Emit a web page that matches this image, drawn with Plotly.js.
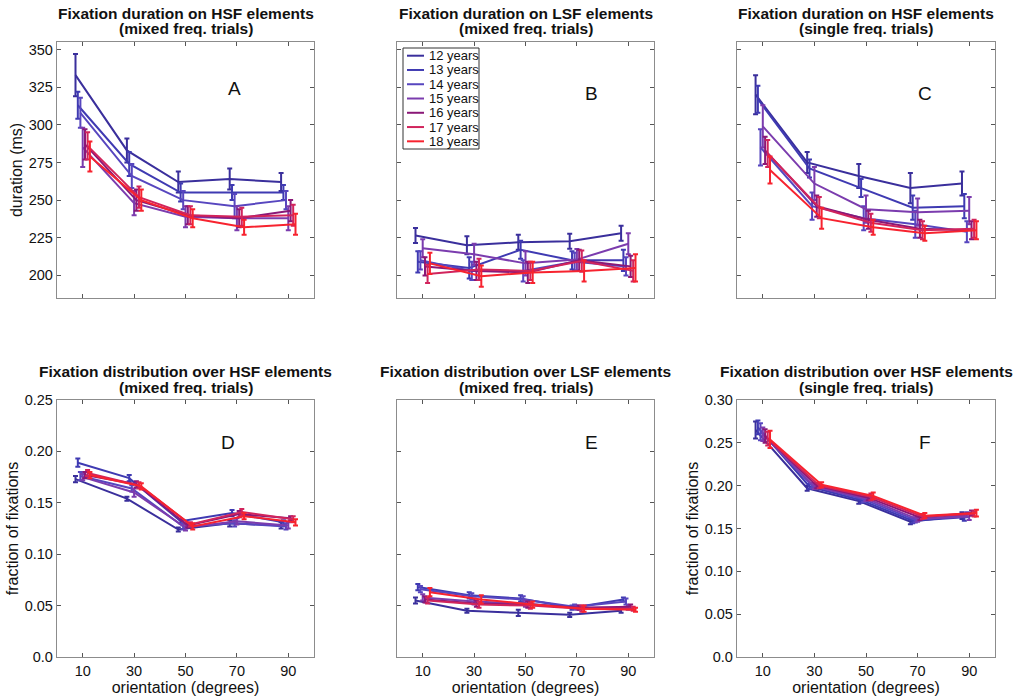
<!DOCTYPE html>
<html>
<head>
<meta charset="utf-8">
<script src="https://cdn.plot.ly/plotly-3.0.1.min.js"></script>
<style>
  html, body { margin: 0; padding: 0; background: #fff; overflow: hidden; }
  #chart { width: 1013px; height: 696px; }
</style>
</head>
<body>
<div id="chart"></div>
<script>
// ---------- DATA ----------
const orientations = [10, 30, 50, 70, 90];
const ageLabels = ['12 years', '13 years', '14 years', '15 years', '16 years', '17 years', '18 years'];

// A: fixation duration on HSF elements (mixed freq. trials), ms  (rows = 12..18 years)
const durHsfMixed = [
  [333, 283, 262, 264, 262],
  [313, 274, 255, 255, 255],
  [308, 266, 250, 246, 250],
  [285, 248, 239, 238, 238],
  [287, 250, 240, 238, 243],
  [286, 252, 240, 239, 240],
  [279, 250, 238, 232, 234]
];
const durHsfMixedErr = [
  [14, 8, 7, 7, 6],
  [9, 8, 6, 5, 5],
  [10, 8, 6, 8, 6],
  [13, 8, 7, 8, 8],
  [10, 7, 6, 6, 7],
  [9, 7, 6, 6, 7],
  [10, 7, 6, 5, 7]
];

// B: fixation duration on LSF elements (mixed freq. trials), ms
const durLsfMixed = [
  [226.5, 220, 222, 222.7, 228],
  [209, 205, 217, 210, 210],
  [210, 203, 203, 209, 206],
  [218, 214, 208, 210.5, 221],
  [206, 203, 202, 210, 206],
  [201, 204, 203, 209.5, 203],
  [208, 199.5, 202, 203, 205]
];
const durLsfMixedErr = [
  [5, 6, 5, 5, 5],
  [7, 7, 6, 6, 7],
  [6, 6, 7, 6, 6],
  [6, 7, 8, 7, 7],
  [6, 6, 7, 7, 7],
  [6, 7, 6, 7, 7],
  [7, 7, 7, 7, 9]
];

// C: fixation duration on HSF elements (single freq. trials), ms
const durHsfSingle = [
  [320, 275, 266, 258, 261],
  [317, 271, 258, 245, 246],
  [285, 246, 238, 234, 229],
  [299, 261, 244, 242, 243],
  [283, 246, 237, 231, 230],
  [281, 245, 235, 230, 231],
  [270, 238, 232, 228, 230]
];
const durHsfSingleErr = [
  [13, 7, 8, 10, 8],
  [9, 6, 6, 8, 8],
  [12, 9, 8, 9, 7],
  [14, 11, 9, 9, 9],
  [9, 7, 6, 6, 6],
  [9, 7, 6, 6, 6],
  [9, 7, 5, 5, 6]
];

// D: fixation distribution over HSF elements (mixed freq. trials), fraction
const distHsfMixed = [
  [0.173, 0.154, 0.124, 0.130, 0.128],
  [0.189, 0.174, 0.132, 0.140, 0.131],
  [0.176, 0.164, 0.127, 0.130, 0.127],
  [0.175, 0.160, 0.126, 0.132, 0.128],
  [0.177, 0.168, 0.128, 0.139, 0.135],
  [0.179, 0.167, 0.129, 0.141, 0.134],
  [0.177, 0.166, 0.127, 0.137, 0.131]
];
const distHsfMixedErr = [
  [0.003, 0.002, 0.002, 0.003, 0.003],
  [0.004, 0.003, 0.002, 0.003, 0.002],
  [0.004, 0.003, 0.003, 0.003, 0.003],
  [0.003, 0.004, 0.003, 0.003, 0.003],
  [0.003, 0.003, 0.002, 0.003, 0.002],
  [0.003, 0.003, 0.002, 0.003, 0.003],
  [0.003, 0.003, 0.003, 0.003, 0.003]
];

// E: fixation distribution over LSF elements (mixed freq. trials), fraction
const distLsfMixed = [
  [0.055, 0.045, 0.043, 0.041, 0.045],
  [0.068, 0.060, 0.057, 0.048, 0.056],
  [0.066, 0.059, 0.056, 0.049, 0.054],
  [0.058, 0.054, 0.052, 0.048, 0.048],
  [0.056, 0.052, 0.051, 0.048, 0.049],
  [0.055, 0.051, 0.050, 0.047, 0.047],
  [0.063, 0.056, 0.051, 0.047, 0.046]
];
const distLsfMixedErr = [
  [0.003, 0.002, 0.003, 0.002, 0.002],
  [0.003, 0.003, 0.003, 0.002, 0.002],
  [0.003, 0.003, 0.003, 0.002, 0.003],
  [0.003, 0.003, 0.003, 0.002, 0.002],
  [0.003, 0.003, 0.003, 0.002, 0.002],
  [0.003, 0.003, 0.003, 0.003, 0.002],
  [0.004, 0.004, 0.003, 0.003, 0.002]
];

// F: fixation distribution over HSF elements (single freq. trials), fraction
const distHsfSingle = [
  [0.265, 0.197, 0.182, 0.158, 0.165],
  [0.268, 0.199, 0.183, 0.159, 0.163],
  [0.263, 0.200, 0.184, 0.160, 0.166],
  [0.260, 0.199, 0.185, 0.161, 0.164],
  [0.258, 0.200, 0.186, 0.163, 0.168],
  [0.255, 0.200, 0.187, 0.164, 0.167],
  [0.254, 0.201, 0.188, 0.165, 0.168]
];
const distHsfSingleErr = [
  [0.010, 0.003, 0.003, 0.003, 0.004],
  [0.008, 0.003, 0.003, 0.003, 0.004],
  [0.010, 0.003, 0.003, 0.003, 0.003],
  [0.008, 0.003, 0.003, 0.003, 0.004],
  [0.008, 0.003, 0.003, 0.003, 0.003],
  [0.008, 0.003, 0.004, 0.003, 0.003],
  [0.010, 0.003, 0.004, 0.003, 0.004]
];

const durTicks = [200, 225, 250, 275, 300, 325, 350];
const distTicks25 = [0, 0.05, 0.10, 0.15, 0.20, 0.25];
const distTickText25 = ['0.0', '0.05', '0.10', '0.15', '0.20', '0.25'];
const distTicks30 = [0, 0.05, 0.10, 0.15, 0.20, 0.25, 0.30];
const distTickText30 = ['0.0', '0.05', '0.10', '0.15', '0.20', '0.25', '0.30'];

const panelTitles1 = ['Fixation duration on HSF elements', 'Fixation duration on LSF elements', 'Fixation duration on HSF elements',
  'Fixation distribution over HSF elements', 'Fixation distribution over LSF elements', 'Fixation distribution over HSF elements'];
const panelTitles2 = ['(mixed freq. trials)', '(mixed freq. trials)', '(single freq. trials)',
  '(mixed freq. trials)', '(mixed freq. trials)', '(single freq. trials)'];
const panelLetters = ['A', 'B', 'C', 'D', 'E', 'F'];

// ---------- STYLE ----------
const ageColors = ['#3a2f9c', '#3f3ab2', '#5746bf', '#7b3cae', '#8a1877', '#d1245c', '#f7232f'];
const xJitter = [-2.8, -1.9, -0.9, 0, 0.9, 1.9, 2.8];
const FONT = 'Liberation Sans, Arial, Helvetica, sans-serif';
const letterPos = [[0.69, 0.82], [0.755, 0.80], [0.73, 0.80], [0.665, 0.835], [0.755, 0.835], [0.73, 0.835]];

const panelVals = [durHsfMixed, durLsfMixed, durHsfSingle, distHsfMixed, distLsfMixed, distHsfSingle];
const panelErrs = [durHsfMixedErr, durLsfMixedErr, durHsfSingleErr, distHsfMixedErr, distLsfMixedErr, distHsfSingleErr];
const axSuffix = ['', '2', '3', '4', '5', '6'];

const traces = [];
panelVals.forEach((vals, pi) => {
  vals.forEach((row, si) => {
    traces.push({
      type: 'scatter',
      mode: 'lines',
      x: orientations.map(o => o + xJitter[si]),
      y: row,
      xaxis: 'x' + axSuffix[pi],
      yaxis: 'y' + axSuffix[pi],
      name: ageLabels[si],
      showlegend: false,
      line: { color: ageColors[si], width: 2 },
      error_y: { type: 'data', array: panelErrs[pi][si], visible: true, color: ageColors[si], thickness: 2, width: 2.5 }
    });
  });
});

const W = 1013, H = 696;
const colX = [[57, 314], [397, 654], [737, 995]];
const rowY = [[42, 298], [400, 657]];
const dx = c => [colX[c][0] / W, colX[c][1] / W];
const dy = r => [1 - rowY[r][1] / H, 1 - rowY[r][0] / H];
const px = x => x / W;
const py = y => 1 - y / H;

const baseAxis = {
  showgrid: false, zeroline: false, showline: true, mirror: 'ticks',
  linecolor: '#8c8c8c', linewidth: 1.2,
  ticks: 'inside', ticklen: 4, tickwidth: 1, tickcolor: '#555',
  tickfont: { family: FONT, size: 14.5, color: '#111' },
  fixedrange: true
};
function xAxis(c, labels) {
  return Object.assign({}, baseAxis, {
    domain: dx(c), range: [0, 100], tickmode: 'array', tickvals: orientations,
    showticklabels: labels,
    title: labels ? { text: 'orientation (degrees)', font: { family: FONT, size: 16, color: '#111' }, standoff: 0 } : { text: '' }
  });
}
function yAxis(r, range, tv, tt, labels, titleText) {
  const a = Object.assign({}, baseAxis, {
    domain: dy(r), range: range, tickmode: 'array', tickvals: tv, showticklabels: labels,
    title: titleText ? { text: titleText, font: { family: FONT, size: 16, color: '#111' }, standoff: 2 } : { text: '' }
  });
  if (tt) a.ticktext = tt;
  return a;
}

const layout = {
  width: W, height: H,
  margin: { l: 0, r: 0, t: 0, b: 0 },
  paper_bgcolor: '#fff', plot_bgcolor: '#fff',
  font: { family: FONT, size: 14, color: '#111' },
  showlegend: false,
  xaxis: Object.assign(xAxis(0, false), { anchor: 'y' }),
  yaxis: Object.assign(yAxis(0, [185, 355], durTicks, null, true, 'duration (ms)'), { anchor: 'x' }),
  xaxis2: Object.assign(xAxis(1, false), { anchor: 'y2' }),
  yaxis2: Object.assign(yAxis(0, [185, 355], durTicks, null, false, null), { anchor: 'x2' }),
  xaxis3: Object.assign(xAxis(2, false), { anchor: 'y3' }),
  yaxis3: Object.assign(yAxis(0, [185, 355], durTicks, null, false, null), { anchor: 'x3' }),
  xaxis4: Object.assign(xAxis(0, true), { anchor: 'y4' }),
  yaxis4: Object.assign(yAxis(1, [0, 0.25], distTicks25, distTickText25, true, 'fraction of fixations'), { anchor: 'x4' }),
  xaxis5: Object.assign(xAxis(1, true), { anchor: 'y5' }),
  yaxis5: Object.assign(yAxis(1, [0, 0.25], distTicks25, distTickText25, false, null), { anchor: 'x5' }),
  xaxis6: Object.assign(xAxis(2, true), { anchor: 'y6' }),
  yaxis6: Object.assign(yAxis(1, [0, 0.30], distTicks30, distTickText30, true, 'fraction of fixations'), { anchor: 'x6' }),
  annotations: [],
  shapes: []
};

// panel titles (two bold lines) and panel letters
panelLetters.forEach((letter, i) => {
  const c = i % 3, r = Math.floor(i / 3);
  const cx = (colX[c][0] + colX[c][1]) / 2;
  const top = rowY[r][0];
  [[panelTitles1[i], top - 28.5], [panelTitles2[i], top - 13]].forEach(([t, yy]) => {
    layout.annotations.push({
      xref: 'paper', yref: 'paper', x: px(cx), y: py(yy),
      xanchor: 'center', yanchor: 'middle',
      text: '<b>' + t + '</b>', showarrow: false,
      font: { family: FONT, size: 15.5, color: '#111' }
    });
  });
  layout.annotations.push({
    xref: 'x' + axSuffix[i] + ' domain', yref: 'y' + axSuffix[i] + ' domain',
    x: letterPos[i][0], y: letterPos[i][1], xanchor: 'center', yanchor: 'middle',
    text: letter, showarrow: false,
    font: { family: FONT, size: 19, color: '#111' }
  });
});

// legend box in panel B (drawn as layout items)
const legBox = { x0: 403, x1: 479, y0: 48, y1: 149 };
layout.shapes.push({
  type: 'rect', xref: 'paper', yref: 'paper',
  x0: px(legBox.x0), x1: px(legBox.x1), y0: py(legBox.y1), y1: py(legBox.y0),
  line: { color: '#333', width: 1 }, fillcolor: '#fff', layer: 'above'
});
ageLabels.forEach((lab, si) => {
  const yy = 55.7 + si * 14.27;
  layout.shapes.push({
    type: 'line', xref: 'paper', yref: 'paper',
    x0: px(407), x1: px(424), y0: py(yy), y1: py(yy),
    line: { color: ageColors[si], width: 2 }, layer: 'above'
  });
  layout.annotations.push({
    xref: 'paper', yref: 'paper', x: px(427), y: py(yy),
    xanchor: 'left', yanchor: 'middle', text: lab, showarrow: false,
    font: { family: FONT, size: 13, color: '#111' }
  });
});

Plotly.newPlot('chart', traces, layout, { staticPlot: true, displayModeBar: false });
</script>
</body>
</html>
